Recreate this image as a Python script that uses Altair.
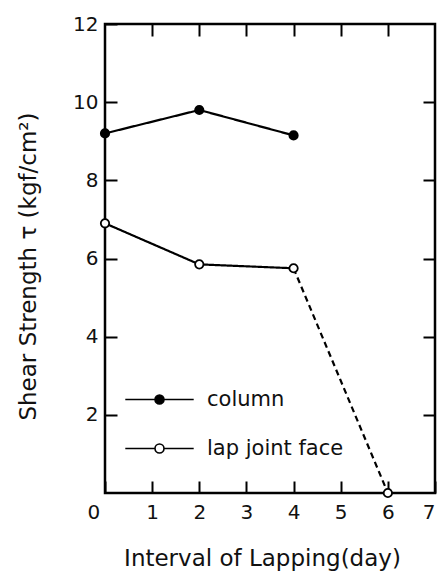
import altair as alt
import pandas as pd

series_names = ["column", "lap joint face"]
days_column = [0, 2, 4]
tau_column = [9.2, 9.8, 9.15]
days_lap = [0, 2, 4, 6]
tau_lap = [6.9, 5.85, 5.75, 0.0]
x_labels = [0, 1, 2, 3, 4, 5, 6, 7]
x_top_ticks = [1, 2, 3, 4, 5, 6]
y_labels = [2, 4, 6, 8, 10, 12]
y_right_ticks = [2, 4, 6, 8, 10]

# line segments: lap joint face is dashed from the last measured point to the failure point
line_rows = []
for d, t in zip(days_column, tau_column):
    line_rows.append({"seg": "column", "style": "solid", "day": d, "tau": t})
for d, t in zip(days_lap[:3], tau_lap[:3]):
    line_rows.append({"seg": "lap-solid", "style": "solid", "day": d, "tau": t})
for d, t in zip(days_lap[2:], tau_lap[2:]):
    line_rows.append({"seg": "lap-dashed", "style": "dashed", "day": d, "tau": t})
line_df = pd.DataFrame(line_rows)

point_df = pd.DataFrame(
    [{"series": series_names[0], "day": d, "tau": t} for d, t in zip(days_column, tau_column)]
    + [{"series": series_names[1], "day": d, "tau": t} for d, t in zip(days_lap, tau_lap)]
)

FONT = "DejaVu Sans"
TXT = "#111"
TL = 12

xscale = alt.Scale(domain=[0, 7], nice=False, zero=False)
yscale = alt.Scale(domain=[0, 12], nice=False)

lines = alt.Chart(line_df).mark_line(color="black", strokeWidth=2.2).encode(
    x=alt.X("day:Q", scale=xscale, axis=alt.Axis(
        orient="bottom", values=x_labels, title="Interval of Lapping(day)",
        offset=-TL, tickSize=TL, tickWidth=2, tickColor="black", domain=False, grid=False,
        labelPadding=9, labelFont=FONT, labelFontSize=20, labelColor=TXT,
        labelOffset={"condition": {"test": "datum.value == 0", "value": -18},
                     "value": 0},
        titleFont=FONT, titleFontSize=23, titleFontWeight="normal", titleColor=TXT,
        titleX=157, titleY=77, titleBaseline="middle", titleAlign="center")),
    y=alt.Y("tau:Q", scale=yscale, axis=alt.Axis(
        orient="left", values=y_labels, title="Shear Strength τ (kgf/cm²)",
        offset=-TL, tickSize=TL, tickWidth=2, tickColor="black", domain=False, grid=False,
        labelPadding=7, labelFont=FONT, labelFontSize=20, labelColor=TXT,
        titleFont=FONT, titleFontSize=23, titleFontWeight="normal", titleColor=TXT,
        titleX=-89, titleY=242, titleAngle=-90, titleBaseline="middle", titleAlign="center")),
    detail="seg:N",
    strokeDash=alt.StrokeDash("style:N", scale=alt.Scale(domain=["solid", "dashed"], range=[[1, 0], [6, 4]]), legend=None),
)

legend_symbol = "M-7.6,0L-1,0M1,0L7.6,0M-1,0A1,1,0,1,1,1,0A1,1,0,1,1,-1,0Z"

points = alt.Chart(point_df).mark_point(shape="circle", filled=True, stroke="black", strokeWidth=1.8, size=70, opacity=1).encode(
    x=alt.X("day:Q", scale=xscale, axis=alt.Axis(
        orient="top", values=x_top_ticks, title=None, labels=False,
        offset=-TL, tickSize=TL, tickWidth=2, tickColor="black", domain=False, grid=False)),
    y=alt.Y("tau:Q", scale=yscale, axis=alt.Axis(
        orient="right", values=y_right_ticks, title=None, labels=False,
        offset=-TL, tickSize=TL, tickWidth=2, tickColor="black", domain=False, grid=False)),
    fill=alt.Fill("series:N", scale=alt.Scale(domain=series_names, range=["black", "white"]),
                  legend=alt.Legend(title=None, orient="none", legendX=44, legendY=365,
                                    symbolType=legend_symbol, symbolSize=81,
                                    symbolStrokeColor="black", symbolStrokeWidth=1.6,
                                    labelFont=FONT, labelFontSize=21, labelColor=TXT,
                                    labelOffset=37, rowPadding=27, labelLimit=0)),
)

chart = alt.layer(lines, points).resolve_axis(x="independent", y="independent").properties(
    width=330, height=469,
    autosize=alt.AutoSizeParams(type="none"),
    padding={"left": 97, "top": 16, "right": 3, "bottom": 84},
    background="white",
).configure_view(stroke="black", strokeWidth=2.5)

chart.save("out.html", embed_options={"renderer": "svg", "actions": False})
